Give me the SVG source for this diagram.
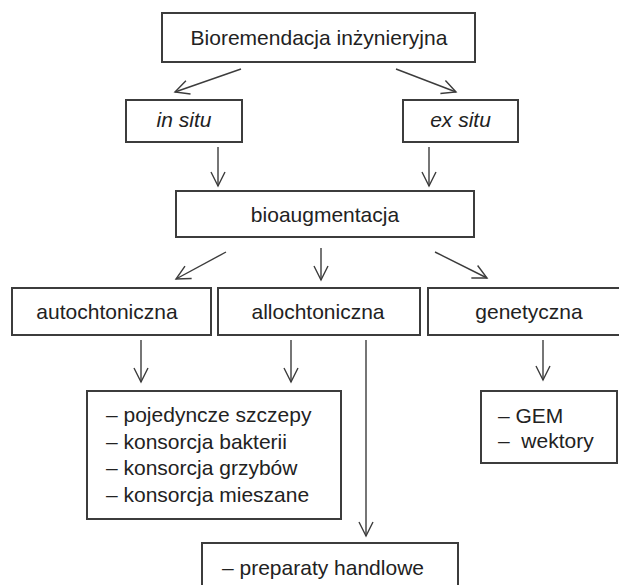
<svg xmlns="http://www.w3.org/2000/svg" width="619" height="585" viewBox="0 0 619 585">
<style>
.box{fill:#fff;stroke:#3c3c3c;stroke-width:2}
.t{font-family:"Liberation Sans",Arial,sans-serif;font-size:21px;fill:#222}
.c{text-anchor:middle}
.i{font-style:italic}
.l{font-size:21px}
.ar{fill:none;stroke:#3c3c3c;stroke-width:1.4}
</style>
<defs>
<marker id="ah" markerUnits="userSpaceOnUse" markerWidth="20" markerHeight="20" refX="0" refY="0" orient="auto" overflow="visible">
<path d="M-14,-7 L0,0 L-14,7" fill="none" stroke="#3c3c3c" stroke-width="1.4"/>
</marker>
</defs>
<rect width="619" height="585" fill="#fff"/>
<g id="n-top"><rect class="box" x="162" y="13" width="313" height="49"/><text class="t c" x="319" y="45">Bioremendacja inżynieryjna</text></g>
<g id="n-insitu"><rect class="box" x="126" y="100" width="116" height="42"/><text class="t c i" x="184" y="127">in situ</text></g>
<g id="n-exsitu"><rect class="box" x="403" y="100" width="115" height="42"/><text class="t c i" x="460.5" y="127">ex situ</text></g>
<g id="n-bioaug"><rect class="box" x="176" y="191" width="298" height="46"/><text class="t c" x="325" y="221.5">bioaugmentacja</text></g>
<g id="n-autoch"><rect class="box" x="12" y="288" width="199" height="47"/><text class="t c" x="107" y="319">autochtoniczna</text></g>
<g id="n-alloch"><rect class="box" x="218" y="288" width="202" height="47"/><text class="t c" x="318" y="319">allochtoniczna</text></g>
<g id="n-genet"><rect class="box" x="428" y="288" width="204" height="47"/><text class="t c" x="529" y="319">genetyczna</text></g>
<g id="n-list"><rect class="box" x="87" y="391" width="254" height="128"/>
<text class="t l" x="106" y="422">– pojedyncze szczepy</text>
<text class="t l" x="106" y="448.7">– konsorcja bakterii</text>
<text class="t l" x="106" y="475.3">– konsorcja grzybów</text>
<text class="t l" x="106" y="502">– konsorcja mieszane</text></g>
<g id="n-gem"><rect class="box" x="481" y="391" width="136" height="72"/>
<text class="t l" x="498" y="423">– GEM</text>
<text class="t l" x="498" y="448" xml:space="preserve">–  wektory</text></g>
<g id="n-prep"><rect class="box" x="202" y="543" width="256" height="60"/><text class="t l" x="222" y="575">– preparaty handlowe</text></g>
<g id="connectors">
<line class="ar" x1="241" y1="69" x2="175" y2="92" marker-end="url(#ah)"/>
<line class="ar" x1="396" y1="69" x2="456" y2="92" marker-end="url(#ah)"/>
<line class="ar" x1="218" y1="147" x2="218" y2="186" marker-end="url(#ah)"/>
<line class="ar" x1="429" y1="147" x2="429" y2="186" marker-end="url(#ah)"/>
<line class="ar" x1="226" y1="252" x2="176" y2="279" marker-end="url(#ah)"/>
<line class="ar" x1="321" y1="248" x2="321" y2="280" marker-end="url(#ah)"/>
<line class="ar" x1="435" y1="252" x2="487" y2="278" marker-end="url(#ah)"/>
<line class="ar" x1="141" y1="340" x2="141" y2="382" marker-end="url(#ah)"/>
<line class="ar" x1="291" y1="340" x2="291" y2="382" marker-end="url(#ah)"/>
<line class="ar" x1="366" y1="340" x2="366" y2="536" marker-end="url(#ah)"/>
<line class="ar" x1="543" y1="340" x2="543" y2="380" marker-end="url(#ah)"/>
</g>
</svg>
